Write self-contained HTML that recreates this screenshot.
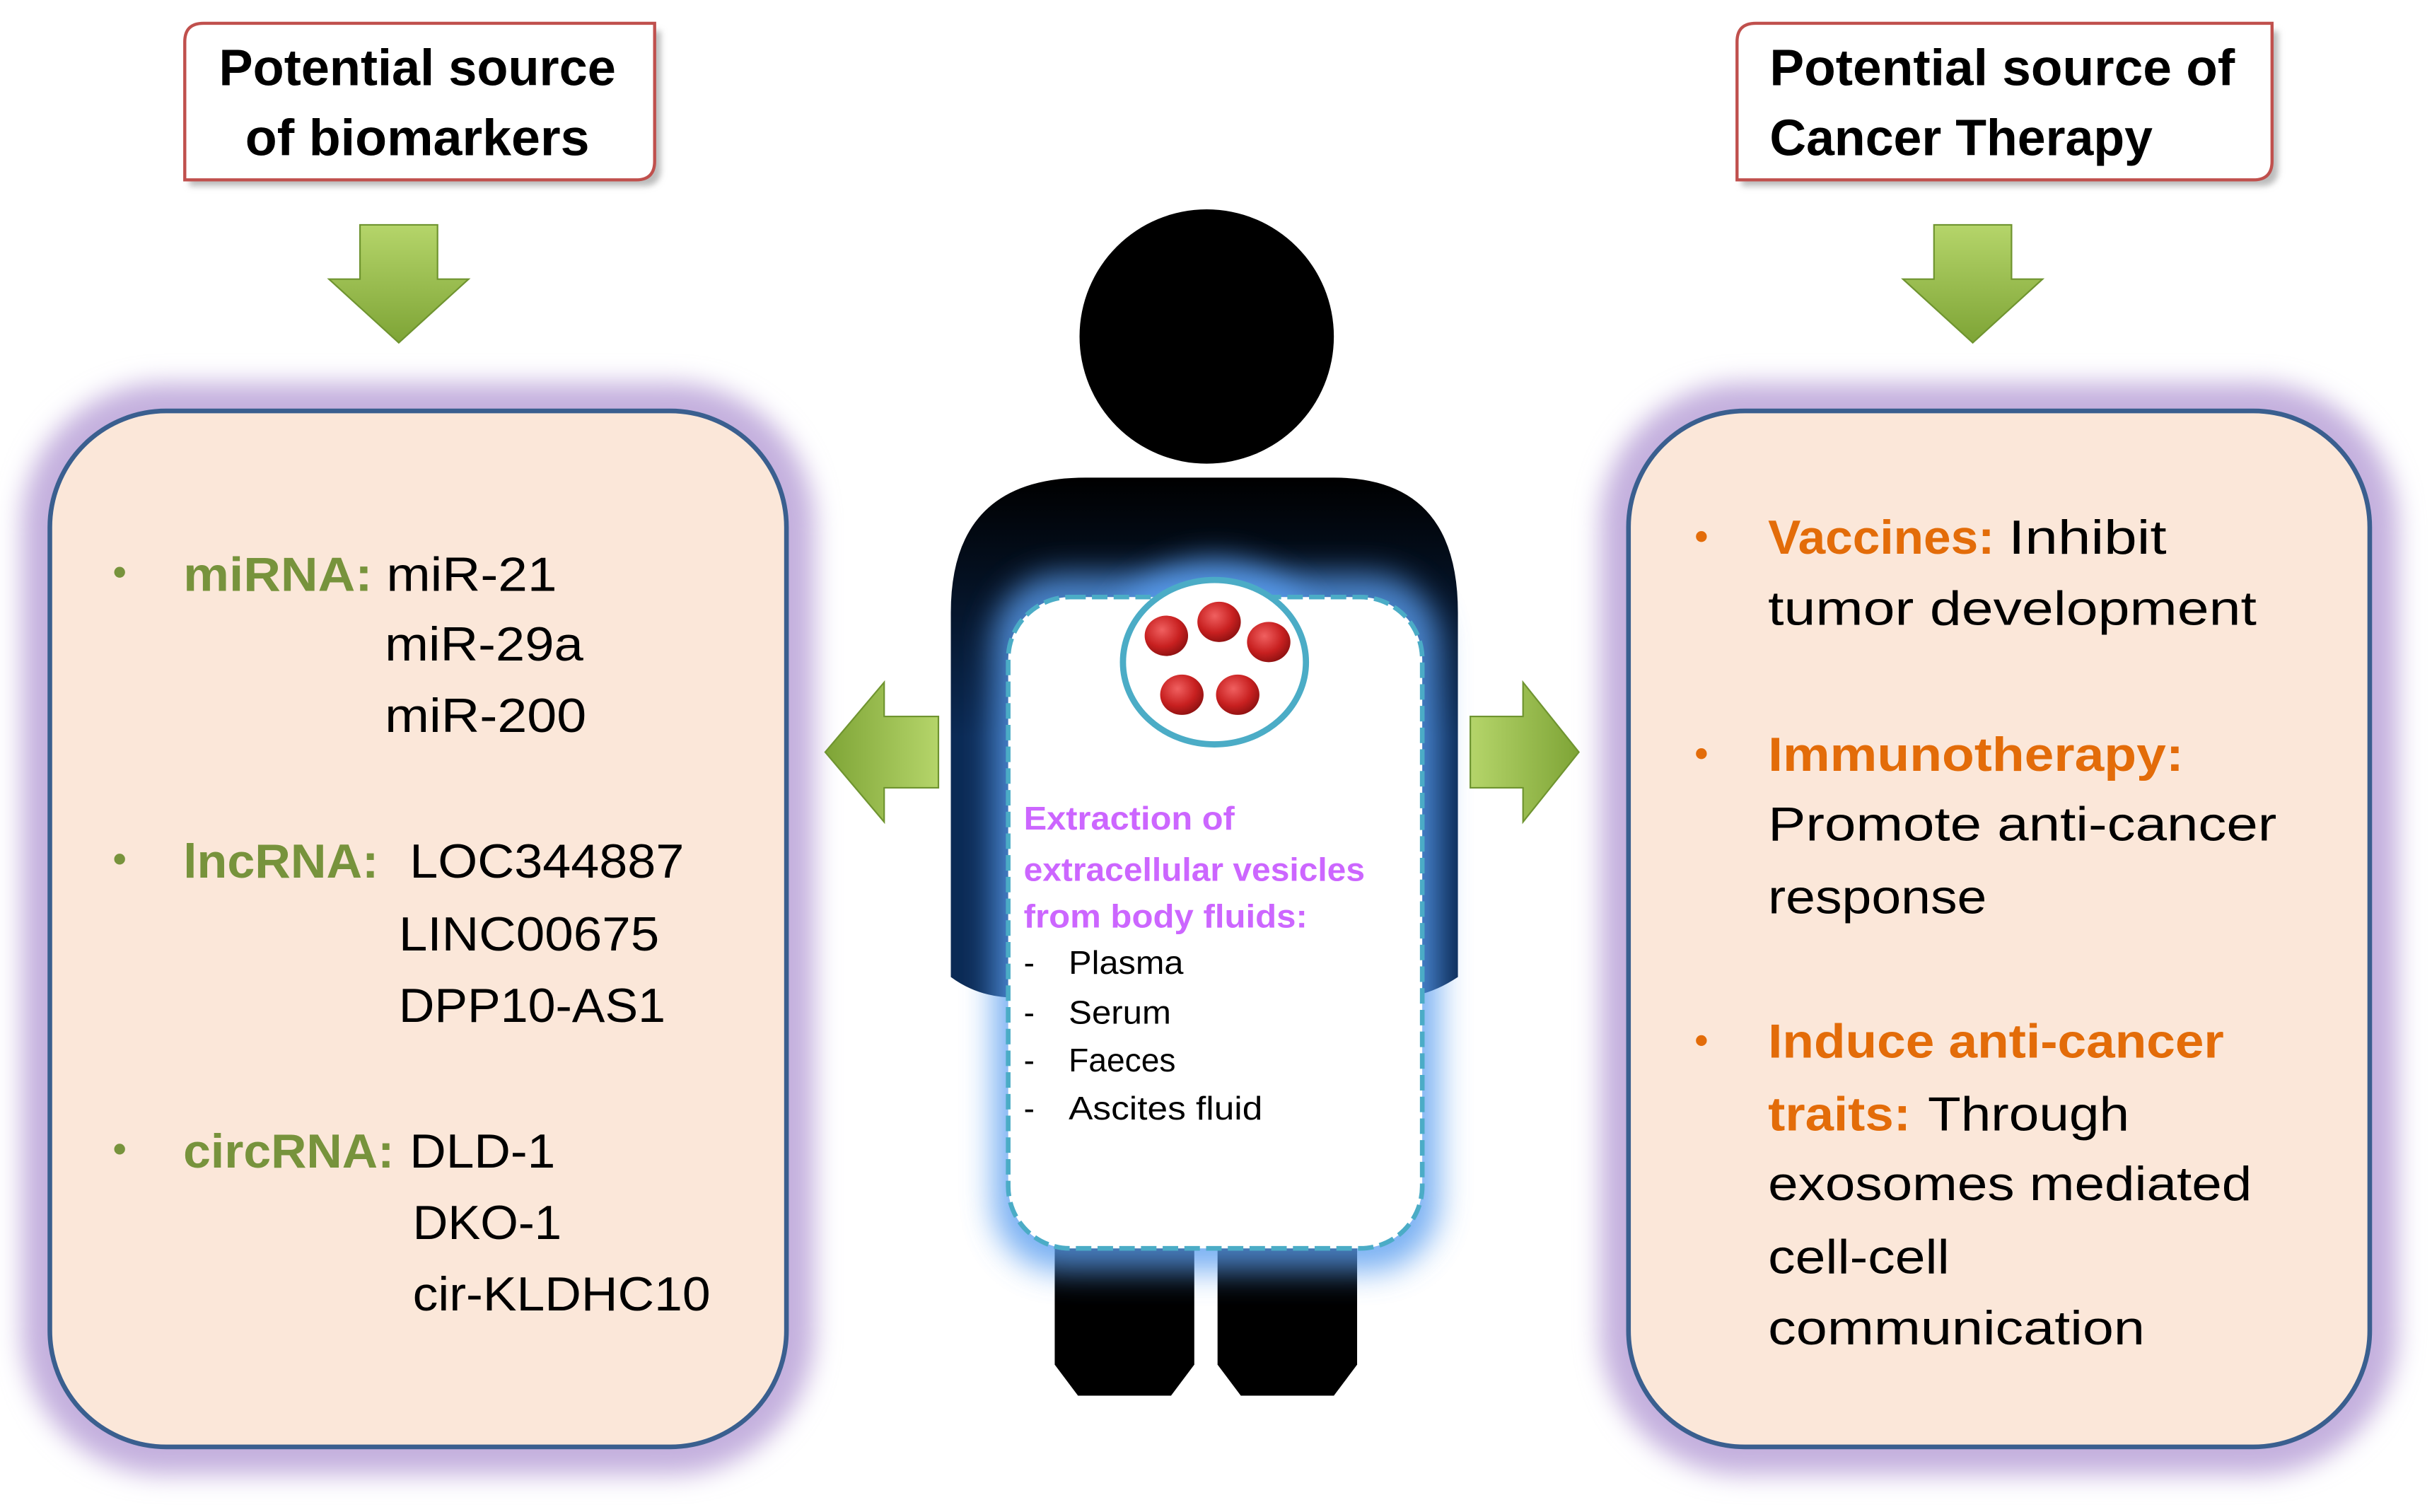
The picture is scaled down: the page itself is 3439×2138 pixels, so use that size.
<!DOCTYPE html>
<html><head><meta charset="utf-8"><style>
html,body{margin:0;padding:0;background:#fff;}
svg{display:block;}
text{font-family:"Liberation Sans",sans-serif;}
</style></head><body>
<svg width="3439" height="2138" viewBox="0 0 1568 975" xmlns="http://www.w3.org/2000/svg">
<defs>
<filter id="glowP" x="-20%" y="-20%" width="140%" height="140%"><feGaussianBlur stdDeviation="8"/></filter>
<filter id="glowB" x="-30%" y="-30%" width="160%" height="160%"><feGaussianBlur stdDeviation="10"/></filter>
<filter id="sh" x="-10%" y="-10%" width="130%" height="140%"><feGaussianBlur stdDeviation="2"/></filter>
<linearGradient id="gA" x1="0" y1="0" x2="0" y2="1"><stop offset="0" stop-color="#b5d56a"/><stop offset="1" stop-color="#7ea436"/></linearGradient>
<linearGradient id="gH" x1="0" y1="0" x2="1" y2="0"><stop offset="0" stop-color="#7ea436"/><stop offset="1" stop-color="#b5d56a"/></linearGradient>
<linearGradient id="gH2" x1="0" y1="0" x2="1" y2="0"><stop offset="0" stop-color="#b5d56a"/><stop offset="1" stop-color="#7ea436"/></linearGradient>
<radialGradient id="rd" cx="0.4" cy="0.35" r="0.7"><stop offset="0" stop-color="#f06060"/><stop offset="0.6" stop-color="#c82020"/><stop offset="1" stop-color="#8a1010"/></radialGradient>
<linearGradient id="body" x1="0" y1="0" x2="0" y2="1"><stop offset="0" stop-color="#000"/><stop offset="0.5" stop-color="#0b2a55"/><stop offset="1" stop-color="#0b2a55"/></linearGradient>
</defs>

<path d="M122,120 H415 Q426,120 426,109 V20 H133 Q122,20 122,31 Z" fill="#bbb" filter="url(#sh)"/>
<path d="M119,116 H410 Q422,116 422,104 V15 H131 Q119,15 119,27 Z" fill="#fff" stroke="#c0504d" stroke-width="2"/>
<text x="269" y="55" font-size="33" font-weight="bold" text-anchor="middle" textLength="256" lengthAdjust="spacingAndGlyphs">Potential source</text>
<text x="269" y="100" font-size="33" font-weight="bold" text-anchor="middle" textLength="222" lengthAdjust="spacingAndGlyphs">of biomarkers</text>

<path d="M1123,120 H1458 Q1469,120 1469,109 V20 H1134 Q1123,20 1123,31 Z" fill="#bbb" filter="url(#sh)"/>
<path d="M1120,116 H1453 Q1465,116 1465,104 V15 H1132 Q1120,15 1120,27 Z" fill="#fff" stroke="#c0504d" stroke-width="2"/>
<text x="1141" y="55" font-size="33" font-weight="bold" textLength="300" lengthAdjust="spacingAndGlyphs">Potential source of</text>
<text x="1141" y="100" font-size="33" font-weight="bold" textLength="247" lengthAdjust="spacingAndGlyphs">Cancer Therapy</text>

<path d="M232,145 H282 V180 H302 L257,221 L212,180 H232 Z" fill="url(#gA)" stroke="#6f9430" stroke-width="1"/>
<path d="M1247,145 H1297 V180 H1317 L1272,221 L1227,180 H1247 Z" fill="url(#gA)" stroke="#6f9430" stroke-width="1"/>

<rect x="14" y="247" width="511" height="704" rx="92" fill="#c4b0de" filter="url(#glowP)"/>
<rect x="32" y="265" width="475" height="668" rx="75" fill="#fbe7d9" stroke="#3a5f8f" stroke-width="3"/>
<rect x="1032" y="247" width="514" height="704" rx="92" fill="#c4b0de" filter="url(#glowP)"/>
<rect x="1050" y="265" width="478" height="668" rx="75" fill="#fbe7d9" stroke="#3a5f8f" stroke-width="3"/>

<g font-size="31">
<circle cx="77" cy="369" r="3.5" fill="#77933c"/>
<text x="118" y="381" fill="#77933c" font-weight="bold" textLength="122" lengthAdjust="spacingAndGlyphs">miRNA:</text>
<text x="249" y="381" textLength="110" lengthAdjust="spacingAndGlyphs">miR-21</text>
<text x="248" y="426" textLength="128" lengthAdjust="spacingAndGlyphs">miR-29a</text>
<text x="248" y="472" textLength="130" lengthAdjust="spacingAndGlyphs">miR-200</text>
<circle cx="77" cy="554" r="3.5" fill="#77933c"/>
<text x="118" y="566" fill="#77933c" font-weight="bold" textLength="126" lengthAdjust="spacingAndGlyphs">lncRNA:</text>
<text x="264" y="566" textLength="177" lengthAdjust="spacingAndGlyphs">LOC344887</text>
<text x="257" y="613" textLength="168" lengthAdjust="spacingAndGlyphs">LINC00675</text>
<text x="257" y="659" textLength="172" lengthAdjust="spacingAndGlyphs">DPP10-AS1</text>
<circle cx="77" cy="741" r="3.5" fill="#77933c"/>
<text x="118" y="753" fill="#77933c" font-weight="bold" textLength="136" lengthAdjust="spacingAndGlyphs">circRNA:</text>
<text x="264" y="753" textLength="94" lengthAdjust="spacingAndGlyphs">DLD-1</text>
<text x="266" y="799" textLength="96" lengthAdjust="spacingAndGlyphs">DKO-1</text>
<text x="266" y="845" textLength="192" lengthAdjust="spacingAndGlyphs">cir-KLDHC10</text>
</g>

<g font-size="31">
<circle cx="1097" cy="346" r="3.5" fill="#e36c09"/>
<text x="1140" y="357" fill="#e36c09" font-weight="bold" textLength="146" lengthAdjust="spacingAndGlyphs">Vaccines:</text>
<text x="1295" y="357" textLength="102" lengthAdjust="spacingAndGlyphs">Inhibit</text>
<text x="1140" y="403" textLength="315" lengthAdjust="spacingAndGlyphs">tumor development</text>
<circle cx="1097" cy="486" r="3.5" fill="#e36c09"/>
<text x="1140" y="497" fill="#e36c09" font-weight="bold" textLength="268" lengthAdjust="spacingAndGlyphs">Immunotherapy:</text>
<text x="1140" y="542" textLength="328" lengthAdjust="spacingAndGlyphs">Promote  anti-cancer</text>
<text x="1140" y="589" textLength="141" lengthAdjust="spacingAndGlyphs">response</text>
<circle cx="1097" cy="671" r="3.5" fill="#e36c09"/>
<text x="1140" y="682" fill="#e36c09" font-weight="bold" textLength="294" lengthAdjust="spacingAndGlyphs">Induce anti-cancer</text>
<text x="1140" y="729" fill="#e36c09" font-weight="bold" textLength="92" lengthAdjust="spacingAndGlyphs">traits:</text>
<text x="1243" y="729" textLength="130" lengthAdjust="spacingAndGlyphs">Through</text>
<text x="1140" y="774" textLength="312" lengthAdjust="spacingAndGlyphs">exosomes mediated</text>
<text x="1140" y="821" textLength="117" lengthAdjust="spacingAndGlyphs">cell-cell</text>
<text x="1140" y="867" textLength="243" lengthAdjust="spacingAndGlyphs">communication</text>
</g>

<path d="M605,462 V508 H570 V530 L532,485 L570,440 V462 Z" fill="url(#gH)" stroke="#6f9430" stroke-width="1"/>
<path d="M948,462 V508 H982 V530 L1018,485 L982,440 V462 Z" fill="url(#gH2)" stroke="#6f9430" stroke-width="1"/>

<circle cx="778" cy="217" r="82" fill="#000"/>
<path d="M680,790 H770 V880 L755,900 H695 L680,880 Z" fill="#000"/>
<path d="M785,790 H875 V880 L860,900 H800 L785,880 Z" fill="#000"/>
<path d="M613,630 V395 Q613,308 700,308 H860 Q940,308 940,395 V630 Q910,650 880,640 H680 Q640,650 613,630 Z" fill="url(#body)"/>
<rect x="640" y="370" width="288" height="450" rx="45" fill="#5a9ef0" filter="url(#glowB)" opacity="0.8"/>
<ellipse cx="783" cy="427" rx="72" ry="66" fill="#5a9ef0" filter="url(#glowB)" opacity="0.8"/>
<rect x="650" y="385" width="267" height="420" rx="40" fill="#fff" stroke="#4bacc6" stroke-width="3" stroke-dasharray="10,4"/>
<ellipse cx="783" cy="427" rx="59" ry="53" fill="#fff" stroke="#4bacc6" stroke-width="4"/>
<ellipse cx="752" cy="410" rx="14" ry="13" fill="url(#rd)"/>
<ellipse cx="786" cy="401" rx="14" ry="13" fill="url(#rd)"/>
<ellipse cx="818" cy="414" rx="14" ry="13" fill="url(#rd)"/>
<ellipse cx="762" cy="448" rx="14" ry="13" fill="url(#rd)"/>
<ellipse cx="798" cy="448" rx="14" ry="13" fill="url(#rd)"/>

<g font-size="21">
<text x="660" y="535" fill="#cc66ff" font-weight="bold" textLength="136" lengthAdjust="spacingAndGlyphs">Extraction of</text>
<text x="660" y="568" fill="#cc66ff" font-weight="bold" textLength="220" lengthAdjust="spacingAndGlyphs">extracellular vesicles</text>
<text x="660" y="598" fill="#cc66ff" font-weight="bold" textLength="183" lengthAdjust="spacingAndGlyphs">from body fluids:</text>
<text x="660" y="628">-</text><text x="689" y="628" textLength="74" lengthAdjust="spacingAndGlyphs">Plasma</text>
<text x="660" y="660">-</text><text x="689" y="660" textLength="66" lengthAdjust="spacingAndGlyphs">Serum</text>
<text x="660" y="691">-</text><text x="689" y="691" textLength="69" lengthAdjust="spacingAndGlyphs">Faeces</text>
<text x="660" y="722">-</text><text x="689" y="722" textLength="125" lengthAdjust="spacingAndGlyphs">Ascites fluid</text>
</g>
</svg>
</body></html>
